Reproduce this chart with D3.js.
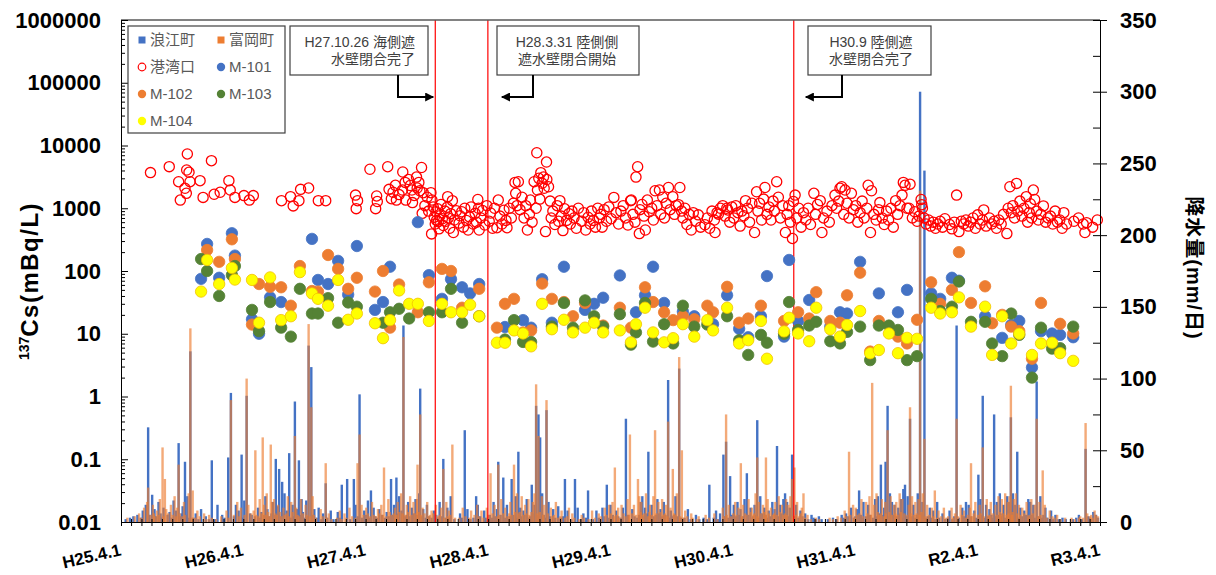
<!DOCTYPE html>
<html>
<head>
<meta charset="utf-8">
<script src="https://cdn.jsdelivr.net/npm/d3@7"></script>
<style>
  body { margin: 0; background: #fff; }
  svg text { font-family: "Liberation Sans", Arial, "Noto Sans CJK JP", sans-serif; }
</style>
</head>
<body>
<div id="chart"></div>
<script>

// ------------------------------------------------------------------------ //
// DATA
// ------------------------------------------------------------------------ //

// x axis labels (Japanese era dates, every 1 April)
var yearTickDates = ["2013-04-01","2014-04-01","2015-04-01","2016-04-01","2017-04-01","2018-04-01","2019-04-01","2020-04-01","2021-04-01"]
var yearTickLabels = ["H25.4.1","H26.4.1","H27.4.1","H28.4.1","H29.4.1","H30.4.1","H31.4.1","R2.4.1","R3.4.1"]

// left axis (log) and right axis tick values
var csTicks = [0.01, 0.1, 1, 10, 100, 1000, 10000, 100000, 1000000]
var rainTicks = [0, 50, 100, 150, 200, 250, 300, 350]
var rainMinorTicks = [25, 75, 125, 175, 225, 275, 325]

// events (red vertical lines)
var eventDates = ["2015-10-26", "2016-03-31", "2018-09-30"]
var eventLine1 = ["H27.10.26 海側遮", "H28.3.31 陸側側", "H30.9 陸側遮"]
var eventLine2 = ["水壁閉合完了", "遮水壁閉合開始", "水壁閉合完了"]

// daily rainfall, 浪江町 (mm/day)
var rainNamie = [
  ["2013-05-20",5],["2013-06-05",8],["2013-06-14",12],["2013-06-21",66],["2013-07-03",19],["2013-07-10",9],["2013-07-22",14],["2013-07-28",6],
  ["2013-08-06",10],["2013-08-24",7],["2013-09-05",15],["2013-09-12",8],["2013-09-20",55],["2013-10-02",11],["2013-10-09",42],["2013-10-16",18],
  ["2013-10-25",119],["2013-11-10",6],["2013-11-26",9],["2013-12-10",4],["2013-12-28",43],
  ["2014-01-14",12],["2014-01-28",5],["2014-02-15",45],["2014-02-23",90],["2014-03-10",12],["2014-03-18",8],["2014-03-27",47],["2014-04-04",15],
  ["2014-04-11",88],["2014-04-21",6],["2014-05-15",10],["2014-05-25",7],["2014-06-06",18],["2014-06-12",9],["2014-06-28",14],["2014-07-07",44],
  ["2014-07-12",11],["2014-07-17",37],["2014-07-26",28],["2014-08-02",20],["2014-08-09",8],["2014-08-16",48],["2014-08-26",12],["2014-09-02",84],
  ["2014-09-08",9],["2014-09-14",43],["2014-09-22",16],["2014-09-26",7],["2014-10-06",15],["2014-10-13",123],["2014-10-21",108],["2014-10-30",9],
  ["2014-11-12",10],["2014-11-25",6],["2014-12-03",27],["2014-12-18",8],
  ["2015-01-08",7],["2015-01-20",26],["2015-02-05",30],["2015-02-25",30],["2015-03-02",12],["2015-03-14",89],["2015-03-28",8],["2015-04-08",15],
  ["2015-04-17",22],["2015-04-25",10],["2015-05-12",9],["2015-06-03",7],["2015-06-16",30],["2015-06-25",12],["2015-07-02",31],["2015-07-10",18],
  ["2015-07-17",8],["2015-07-23",137],["2015-08-06",14],["2015-08-17",10],["2015-08-28",16],["2015-09-08",20],["2015-09-11",93],["2015-09-20",9],
  ["2015-10-01",12],["2015-10-22",8],["2015-11-08",14],["2015-11-19",44],["2015-12-01",10],["2015-12-11",18],
  ["2016-01-08",6],["2016-01-22",64],["2016-01-30",9],["2016-02-25",18],["2016-03-01",12],["2016-03-20",8],["2016-04-17",14],["2016-04-27",9],
  ["2016-05-01",42],["2016-05-16",31],["2016-05-27",12],["2016-06-10",30],["2016-06-22",18],["2016-06-30",49],["2016-07-06",10],["2016-07-15",8],
  ["2016-07-25",16],["2016-08-09",26],["2016-08-17",12],["2016-08-22",81],["2016-08-29",75],["2016-09-03",59],["2016-09-09",20],["2016-09-22",78],
  ["2016-09-28",14],["2016-10-12",9],["2016-10-27",11],["2016-11-16",30],["2016-11-24",8],["2016-12-16",30],["2016-12-24",10],
  ["2017-01-10",6],["2017-01-24",22],["2017-02-18",8],["2017-03-08",10],["2017-03-21",26],["2017-04-01",12],["2017-04-18",8],["2017-05-08",10],
  ["2017-05-17",72],["2017-06-05",9],["2017-06-30",14],["2017-07-05",18],["2017-07-13",10],["2017-07-23",49],["2017-08-02",12],["2017-08-19",16],
  ["2017-08-28",9],["2017-09-07",14],["2017-09-20",99],["2017-09-28",8],["2017-10-12",18],["2017-10-23",107],["2017-11-18",9],["2017-12-12",5],
  ["2018-01-21",26],["2018-02-10",8],["2018-02-22",6],["2018-03-04",47],["2018-03-12",56],["2018-03-24",32],["2018-04-04",12],["2018-04-15",14],
  ["2018-04-24",9],["2018-05-06",16],["2018-05-13",34],["2018-05-24",10],["2018-06-05",12],["2018-06-13",71],["2018-06-22",18],["2018-07-04",10],
  ["2018-07-17",8],["2018-07-28",14],["2018-08-04",9],["2018-08-11",53],["2018-08-20",12],["2018-08-30",16],["2018-09-04",20],["2018-09-10",14],
  ["2018-09-18",10],["2018-09-25",47],["2018-10-07",12],["2018-10-20",8],["2018-11-03",6],["2018-11-22",5],["2018-12-14",4],
  ["2019-01-25",3],["2019-02-20",5],["2019-03-05",6],["2019-03-20",10],["2019-04-06",9],["2019-04-13",22],["2019-04-26",14],["2019-05-10",12],
  ["2019-05-31",16],["2019-06-08",18],["2019-06-17",40],["2019-06-27",10],["2019-07-01",42],["2019-07-07",81],["2019-07-14",20],["2019-07-20",14],
  ["2019-07-28",12],["2019-08-08",10],["2019-08-16",16],["2019-08-23",23],["2019-08-28",26],["2019-09-05",18],["2019-09-12",72],["2019-09-22",12],
  ["2019-10-05",20],["2019-10-12",300],["2019-10-19",14],["2019-10-25",245],["2019-11-10",10],["2019-11-20",8],["2019-12-02",14],["2019-12-18",6],
  ["2020-01-08",8],["2020-01-29",137],["2020-02-15",10],["2020-02-26",14],["2020-03-05",12],["2020-03-22",8],["2020-04-03",33],["2020-04-09",16],
  ["2020-04-16",88],["2020-04-26",12],["2020-05-06",9],["2020-05-20",75],["2020-05-28",14],["2020-06-06",20],["2020-06-17",12],["2020-06-28",18],
  ["2020-07-03",14],["2020-07-09",73],["2020-07-15",20],["2020-07-21",12],["2020-07-28",49],["2020-08-06",10],["2020-08-18",8],["2020-08-30",16],
  ["2020-09-05",14],["2020-09-14",12],["2020-09-24",98],["2020-10-05",18],["2020-10-20",10],["2020-11-06",8],["2020-11-19",5],["2020-12-10",3],
  ["2021-01-20",3],["2021-01-28",5],["2021-02-17",51],["2021-02-25",4],["2021-03-12",7],["2021-03-20",5],
  // light rain days
  ["2013-04-15",2],["2013-04-28",3],["2013-05-08",4],["2013-05-30",3],["2013-06-25",5],["2013-07-15",4],["2013-07-31",3],["2013-08-18",5],
  ["2013-08-30",3],["2013-09-25",4],["2013-09-29",6],["2013-10-12",5],["2013-10-21",3],["2013-11-03",3],["2013-11-18",2],["2013-12-20",2],
  ["2014-01-06",2],["2014-02-04",3],["2014-03-04",4],["2014-03-30",3],["2014-04-26",5],["2014-05-06",4],["2014-05-20",3],["2014-06-02",5],
  ["2014-06-17",4],["2014-06-24",6],["2014-07-04",5],["2014-07-21",4],["2014-07-30",6],["2014-08-12",5],["2014-08-21",3],["2014-08-30",4],
  ["2014-09-18",5],["2014-09-30",3],["2014-10-09",4],["2014-10-26",5],["2014-11-06",3],["2014-11-20",2],["2014-12-08",3],["2014-12-26",2],
  ["2015-01-15",3],["2015-02-14",2],["2015-03-09",4],["2015-03-21",3],["2015-04-02",5],["2015-04-13",3],["2015-04-30",4],["2015-05-06",3],
  ["2015-05-20",5],["2015-05-28",3],["2015-06-09",4],["2015-06-20",5],["2015-07-06",6],["2015-07-27",4],["2015-08-02",5],["2015-08-10",4],
  ["2015-08-23",6],["2015-09-02",5],["2015-09-15",4],["2015-09-27",3],["2015-10-08",4],["2015-10-15",3],["2015-10-29",5],["2015-11-02",3],
  ["2015-11-14",4],["2015-11-26",3],["2015-12-06",3],["2015-12-22",2],
  ["2016-01-14",3],["2016-02-08",2],["2016-02-17",3],["2016-03-08",4],["2016-03-26",3],["2016-04-06",5],["2016-04-12",3],["2016-04-22",4],
  ["2016-05-08",5],["2016-05-21",3],["2016-06-04",4],["2016-06-16",5],["2016-06-26",3],["2016-07-02",6],["2016-07-10",4],["2016-07-20",5],
  ["2016-07-30",3],["2016-08-04",4],["2016-08-13",6],["2016-08-26",5],["2016-09-06",4],["2016-09-14",5],["2016-09-18",3],["2016-10-03",4],
  ["2016-10-18",3],["2016-11-04",3],["2016-11-10",4],["2016-12-05",2],
  ["2017-01-03",2],["2017-01-18",3],["2017-02-08",2],["2017-02-25",3],["2017-03-14",4],["2017-03-28",3],["2017-04-08",5],["2017-04-24",4],
  ["2017-05-02",3],["2017-05-24",5],["2017-06-12",4],["2017-06-20",3],["2017-06-25",5],["2017-07-08",4],["2017-07-18",6],["2017-07-30",5],
  ["2017-08-08",4],["2017-08-14",5],["2017-08-24",6],["2017-09-02",4],["2017-09-12",5],["2017-09-24",3],["2017-10-02",4],["2017-10-07",5],
  ["2017-10-17",4],["2017-10-28",3],["2017-11-08",3],["2017-11-26",2],["2017-12-22",2],
  ["2018-01-04",3],["2018-01-14",2],["2018-02-03",3],["2018-02-16",2],["2018-03-08",4],["2018-03-18",3],["2018-03-30",5],["2018-04-10",4],
  ["2018-04-20",5],["2018-04-29",3],["2018-05-02",4],["2018-05-18",5],["2018-05-30",3],["2018-06-01",4],["2018-06-10",5],["2018-06-18",3],
  ["2018-06-27",6],["2018-07-08",5],["2018-07-12",3],["2018-07-22",4],["2018-08-08",5],["2018-08-15",4],["2018-08-24",6],["2018-09-01",5],
  ["2018-09-07",3],["2018-09-14",4],["2018-09-21",5],["2018-10-03",4],["2018-10-14",3],["2018-10-26",4],["2018-11-12",2],["2018-11-28",3],
  ["2018-12-05",2],["2018-12-22",2],
  ["2019-01-10",2],["2019-02-05",2],["2019-02-26",3],["2019-03-12",4],["2019-03-28",3],["2019-04-02",4],["2019-04-18",5],["2019-04-22",3],
  ["2019-05-04",4],["2019-05-16",5],["2019-05-24",3],["2019-06-02",4],["2019-06-13",6],["2019-06-22",5],["2019-07-04",6],["2019-07-10",4],
  ["2019-07-24",5],["2019-08-02",4],["2019-08-12",6],["2019-08-20",3],["2019-09-01",4],["2019-09-08",5],["2019-09-16",4],["2019-09-27",3],
  ["2019-10-02",5],["2019-10-08",4],["2019-10-15",6],["2019-10-22",5],["2019-10-29",3],["2019-11-04",4],["2019-11-15",3],["2019-11-26",2],
  ["2019-12-08",3],["2019-12-26",2],
  ["2020-01-03",3],["2020-01-16",2],["2020-01-22",4],["2020-02-05",3],["2020-02-20",4],["2020-03-01",3],["2020-03-12",4],["2020-03-27",3],
  ["2020-04-05",4],["2020-04-12",5],["2020-04-21",3],["2020-04-30",4],["2020-05-02",3],["2020-05-12",5],["2020-05-16",3],["2020-05-24",4],
  ["2020-06-02",5],["2020-06-10",4],["2020-06-14",6],["2020-06-22",3],["2020-07-06",5],["2020-07-12",4],["2020-07-18",6],["2020-07-25",4],
  ["2020-08-02",3],["2020-08-12",4],["2020-08-24",5],["2020-09-01",4],["2020-09-10",5],["2020-09-18",3],["2020-09-28",4],["2020-10-09",3],
  ["2020-10-14",5],["2020-10-26",3],["2020-11-12",2],["2020-11-28",2],["2020-12-20",2],
  ["2021-01-10",2],["2021-02-06",2],["2021-02-28",3],["2021-03-05",2],["2021-03-26",3]
]

// daily rainfall, 富岡町 (mm/day)
var rainTomioka = [
  ["2013-05-25",6],["2013-06-09",10],["2013-06-18",14],["2013-06-21",24],["2013-07-05",12],["2013-07-18",8],["2013-07-26",16],["2013-08-03",52],
  ["2013-08-10",30],["2013-08-14",9],["2013-08-28",12],["2013-09-08",18],["2013-09-16",10],["2013-09-20",40],["2013-10-06",14],["2013-10-20",20],
  ["2013-10-25",135],["2013-11-01",22],["2013-11-15",8],["2013-12-05",6],["2013-12-20",5],
  ["2014-01-25",4],["2014-02-10",8],["2014-02-23",85],["2014-03-14",14],["2014-03-25",10],["2014-04-11",100],["2014-04-16",12],["2014-05-02",8],
  ["2014-05-07",50],["2014-05-20",16],["2014-05-29",59],["2014-06-02",12],["2014-06-10",20],["2014-06-22",54],["2014-06-26",14],["2014-07-02",16],
  ["2014-07-14",12],["2014-07-30",10],["2014-08-12",18],["2014-08-22",14],["2014-09-02",60],["2014-09-06",10],["2014-09-20",16],["2014-10-04",12],
  ["2014-10-13",138],["2014-10-21",80],["2014-10-25",18],["2014-11-18",9],["2014-12-03",41],["2014-12-12",6],
  ["2015-01-14",8],["2015-01-28",6],["2015-02-12",10],["2015-03-08",41],["2015-03-14",61],["2015-03-20",12],["2015-04-03",10],["2015-04-20",14],
  ["2015-05-08",9],["2015-05-18",12],["2015-05-26",38],["2015-06-08",16],["2015-06-28",10],["2015-07-06",14],["2015-07-16",20],["2015-07-23",129],
  ["2015-08-02",12],["2015-08-12",18],["2015-08-22",14],["2015-09-01",16],["2015-09-03",40],["2015-09-11",75],["2015-09-18",10],["2015-10-02",14],
  ["2015-10-15",8],["2015-10-28",12],["2015-11-12",10],["2015-11-19",37],["2015-11-28",14],["2015-12-06",8],["2015-12-16",54],
  ["2016-01-16",10],["2016-02-10",8],["2016-02-28",12],["2016-03-12",8],["2016-03-28",10],["2016-04-08",34],["2016-04-20",12],["2016-05-01",40],
  ["2016-05-10",16],["2016-05-22",10],["2016-06-06",14],["2016-06-17",40],["2016-06-26",20],["2016-07-10",18],["2016-07-20",12],["2016-07-30",16],
  ["2016-08-12",14],["2016-08-17",20],["2016-08-22",96],["2016-08-29",60],["2016-09-08",18],["2016-09-15",12],["2016-09-22",85],["2016-10-05",10],
  ["2016-10-20",14],["2016-11-06",8],["2016-11-28",10],["2016-12-08",6],
  ["2017-01-05",5],["2017-02-05",8],["2017-02-25",6],["2017-03-15",10],["2017-03-28",12],["2017-04-07",14],["2017-04-14",38],["2017-04-24",10],
  ["2017-05-04",12],["2017-05-22",16],["2017-05-29",61],["2017-06-10",12],["2017-06-22",30],["2017-06-26",18],["2017-07-02",14],["2017-07-16",20],
  ["2017-07-28",12],["2017-08-07",18],["2017-08-12",64],["2017-08-22",14],["2017-09-02",16],["2017-09-14",12],["2017-09-20",70],["2017-09-27",10],
  ["2017-10-04",37],["2017-10-16",20],["2017-10-23",115],["2017-10-31",50],["2017-11-10",8],["2017-11-28",6],["2017-12-20",4],
  ["2018-01-10",5],["2018-02-05",6],["2018-03-02",10],["2018-03-12",75],["2018-03-20",12],["2018-04-08",14],["2018-04-18",10],["2018-04-25",41],
  ["2018-05-02",12],["2018-05-18",16],["2018-05-28",10],["2018-06-08",20],["2018-06-13",45],["2018-06-18",14],["2018-06-30",12],["2018-07-09",45],
  ["2018-07-14",16],["2018-07-24",10],["2018-08-06",14],["2018-08-16",18],["2018-08-26",12],["2018-09-07",16],["2018-09-14",12],["2018-09-20",18],
  ["2018-09-25",30],["2018-10-02",38],["2018-10-10",14],["2018-10-24",10],["2018-10-29",20],["2018-11-10",5],["2018-12-05",3],
  ["2019-01-15",3],["2019-02-08",4],["2019-03-01",8],["2019-03-14",49],["2019-03-26",12],["2019-04-03",10],["2019-04-20",16],["2019-05-04",14],
  ["2019-05-14",18],["2019-05-22",97],["2019-05-28",12],["2019-06-04",20],["2019-06-20",16],["2019-06-30",14],["2019-07-07",64],["2019-07-16",18],
  ["2019-07-26",12],["2019-08-02",14],["2019-08-12",20],["2019-08-20",16],["2019-09-08",12],["2019-09-12",80],["2019-09-18",18],["2019-09-28",14],
  ["2019-10-07",16],["2019-10-12",231],["2019-10-20",20],["2019-10-25",58],["2019-11-02",12],["2019-11-16",10],["2019-11-25",22],["2019-12-06",8],
  ["2019-12-22",10],
  ["2020-01-14",10],["2020-01-24",6],["2020-01-29",72],["2020-02-10",12],["2020-02-20",8],["2020-03-08",10],["2020-03-12",41],["2020-03-25",14],
  ["2020-04-07",12],["2020-04-16",52],["2020-04-28",16],["2020-05-10",14],["2020-05-24",12],["2020-06-02",18],["2020-06-12",16],["2020-06-22",20],
  ["2020-06-30",14],["2020-07-05",18],["2020-07-09",95],["2020-07-18",16],["2020-07-24",20],["2020-08-02",12],["2020-08-12",10],["2020-08-25",14],
  ["2020-09-08",16],["2020-09-18",12],["2020-09-24",72],["2020-10-02",14],["2020-10-12",36],["2020-10-18",12],["2020-11-02",8],["2020-11-24",5],
  ["2021-01-06",3],["2021-02-01",4],["2021-02-17",69],["2021-02-22",6],["2021-03-06",5],["2021-03-16",8],["2021-03-26",4],
  // light rain days
  ["2013-04-20",3],["2013-05-12",4],["2013-06-01",3],["2013-06-28",5],["2013-07-08",6],["2013-07-12",4],["2013-07-22",5],["2013-08-06",4],
  ["2013-08-20",6],["2013-09-02",5],["2013-09-12",4],["2013-09-24",6],["2013-10-01",4],["2013-10-10",5],["2013-10-29",3],["2013-11-08",3],
  ["2013-11-22",4],["2013-12-12",2],["2013-12-28",3],
  ["2014-01-10",2],["2014-02-16",3],["2014-03-04",5],["2014-03-20",4],["2014-04-05",5],["2014-04-24",6],["2014-05-10",5],["2014-05-16",4],
  ["2014-05-26",6],["2014-06-06",5],["2014-06-14",7],["2014-06-18",4],["2014-07-06",6],["2014-07-10",5],["2014-07-20",7],["2014-07-24",4],
  ["2014-08-03",5],["2014-08-08",6],["2014-08-16",4],["2014-08-26",7],["2014-09-10",5],["2014-09-14",4],["2014-09-26",6],["2014-10-08",5],
  ["2014-10-17",4],["2014-10-29",5],["2014-11-04",3],["2014-11-24",4],["2014-12-06",3],["2014-12-20",2],
  ["2015-01-06",3],["2015-01-20",2],["2015-02-03",3],["2015-02-20",4],["2015-03-02",3],["2015-03-26",5],["2015-04-08",6],["2015-04-14",4],
  ["2015-04-26",5],["2015-05-02",4],["2015-05-12",6],["2015-05-22",5],["2015-06-02",4],["2015-06-12",7],["2015-06-18",5],["2015-06-24",6],
  ["2015-07-02",5],["2015-07-10",7],["2015-07-20",6],["2015-07-28",5],["2015-08-06",7],["2015-08-16",5],["2015-08-26",6],["2015-09-06",7],
  ["2015-09-14",5],["2015-09-24",6],["2015-10-06",4],["2015-10-10",5],["2015-10-20",6],["2015-11-04",4],["2015-11-08",5],["2015-11-22",3],
  ["2015-12-02",4],["2015-12-10",5],["2015-12-24",3],
  ["2016-01-06",3],["2016-01-24",4],["2016-02-04",3],["2016-02-20",5],["2016-03-04",4],["2016-03-18",3],["2016-04-02",5],["2016-04-14",6],
  ["2016-04-26",4],["2016-05-04",5],["2016-05-16",6],["2016-05-28",4],["2016-06-02",6],["2016-06-10",5],["2016-06-20",7],["2016-06-30",6],
  ["2016-07-04",7],["2016-07-14",5],["2016-07-24",6],["2016-08-02",5],["2016-08-08",7],["2016-08-26",6],["2016-09-02",7],["2016-09-12",5],
  ["2016-09-26",6],["2016-10-10",4],["2016-10-14",5],["2016-10-26",3],["2016-11-02",4],["2016-11-16",3],["2016-11-22",4],["2016-12-14",3],
  ["2016-12-28",2],
  ["2017-01-12",3],["2017-01-26",2],["2017-02-14",3],["2017-03-04",4],["2017-03-20",5],["2017-04-02",6],["2017-04-12",4],["2017-04-20",5],
  ["2017-04-28",3],["2017-05-10",6],["2017-05-16",4],["2017-05-26",5],["2017-06-04",6],["2017-06-16",5],["2017-06-30",7],["2017-07-06",5],
  ["2017-07-10",6],["2017-07-22",4],["2017-07-26",7],["2017-08-02",5],["2017-08-16",6],["2017-08-28",7],["2017-09-06",5],["2017-09-10",6],
  ["2017-09-18",4],["2017-10-08",6],["2017-10-12",5],["2017-10-26",4],["2017-11-04",3],["2017-11-16",4],["2017-12-02",3],["2017-12-14",2],
  ["2018-01-20",3],["2018-02-14",2],["2018-03-06",4],["2018-03-14",5],["2018-03-26",4],["2018-04-02",6],["2018-04-12",5],["2018-04-28",4],
  ["2018-05-08",6],["2018-05-12",5],["2018-05-24",7],["2018-06-02",5],["2018-06-04",6],["2018-06-14",4],["2018-06-24",6],["2018-07-04",7],
  ["2018-07-08",5],["2018-07-18",6],["2018-07-30",5],["2018-08-02",6],["2018-08-10",5],["2018-08-20",7],["2018-08-30",5],["2018-09-03",6],
  ["2018-09-10",5],["2018-09-28",4],["2018-10-06",5],["2018-10-16",4],["2018-10-20",6],["2018-11-02",3],["2018-11-20",2],["2018-12-15",2],
  ["2019-01-25",2],["2019-02-18",3],["2019-03-06",4],["2019-03-18",5],["2019-03-30",3],["2019-04-08",5],["2019-04-14",6],["2019-04-26",4],
  ["2019-05-08",6],["2019-05-18",5],["2019-06-08",7],["2019-06-12",5],["2019-06-16",6],["2019-06-26",4],["2019-07-02",6],["2019-07-12",7],
  ["2019-07-20",5],["2019-07-30",6],["2019-08-06",5],["2019-08-16",7],["2019-08-26",6],["2019-09-02",5],["2019-09-14",6],["2019-09-24",5],
  ["2019-10-02",6],["2019-10-10",5],["2019-10-16",7],["2019-10-28",4],["2019-11-08",5],["2019-11-20",4],["2019-12-02",3],["2019-12-14",4],
  ["2019-12-28",3],
  ["2020-01-04",4],["2020-01-18",3],["2020-02-02",4],["2020-02-14",5],["2020-02-26",3],["2020-03-02",5],["2020-03-16",4],["2020-03-20",6],
  ["2020-04-02",5],["2020-04-10",6],["2020-04-20",4],["2020-05-04",5],["2020-05-06",4],["2020-05-16",6],["2020-05-28",5],["2020-06-06",7],
  ["2020-06-08",5],["2020-06-16",6],["2020-06-26",5],["2020-07-02",6],["2020-07-12",5],["2020-07-14",7],["2020-07-28",6],["2020-08-06",5],
  ["2020-08-18",6],["2020-08-30",4],["2020-09-02",5],["2020-09-12",6],["2020-09-28",4],["2020-10-06",5],["2020-10-24",3],["2020-11-10",4],
  ["2020-11-16",3],["2020-12-04",2],["2020-12-18",3],
  ["2021-01-16",2],["2021-01-28",3],["2021-02-10",3],["2021-03-02",4],["2021-03-10",3],["2021-03-20",5]
]

// 137Cs at the port entrance, 港湾口 (mBq/L)
var harbor = [
  ["2013-06-28",3700],["2013-08-23",4600],["2013-09-20",2650],["2013-09-25",1350],["2013-10-09",2080],["2013-10-13",1730],["2013-10-14",4070],
  ["2013-10-16",7330],["2013-10-21",3740],["2013-10-24",2650],["2013-11-23",2750],["2013-12-02",1490],["2013-12-27",5730],["2014-01-04",1670],
  ["2014-01-22",1795],["2014-02-17",2750],["2014-02-21",1950],["2014-03-07",1490],["2014-04-03",1590],["2014-04-19",1350],["2014-05-01",1590],
  ["2014-07-24",1320],["2014-08-20",1530],["2014-08-28",1090],["2014-09-14",1320],["2014-09-19",2000],["2014-10-13",2100],["2014-11-11",1320],
  ["2014-12-03",1320],["2015-03-02",1620],["2015-03-04",985],["2015-03-08",1320],["2015-04-14",4180],["2015-05-01",985],["2015-05-04",1570],
  ["2015-05-06",1280],["2015-06-06",4590],["2015-06-10",2000],["2015-06-17",1420],["2015-06-22",1800],["2015-06-29",2320],["2015-07-02",1350],
  ["2015-07-10",1650],["2015-07-20",1950],["2015-07-21",3780],["2015-07-28",2580],["2015-07-30",1350],["2015-08-07",2870],["2015-08-12",2300],
  ["2015-08-17",1950],["2015-08-19",1230],["2015-08-24",1600],["2015-08-31",3140],["2015-09-02",2100],["2015-09-07",2580],["2015-09-10",1900],
  ["2015-09-15",4460],["2015-09-17",830],["2015-09-20",1770],["2015-09-25",1100],["2015-10-02",1500],["2015-10-06",900],["2015-10-13",1770],
  ["2015-10-15",390],["2015-10-16",1350],["2015-10-20",1050],["2015-10-23",720],["2015-10-26",560],["2015-10-28",880],["2015-10-30",640],
  ["2015-11-02",980],["2015-11-04",610],["2015-11-06",470],["2015-11-09",760],["2015-11-12",1150],["2015-11-16",680],["2015-11-19",530],
  ["2015-11-24",900],["2015-11-27",620],["2015-12-01",1040],["2015-12-02",1530],["2015-12-04",700],["2015-12-08",480],["2015-12-11",820],
  ["2015-12-16",1320],["2015-12-19",410],["2015-12-22",650],["2015-12-28",910],
  ["2016-01-05",580],["2016-01-08",760],["2016-01-13",880],["2016-01-18",500],["2016-01-22",1000],["2016-01-27",640],["2016-02-01",450],
  ["2016-02-05",730],["2016-02-10",1050],["2016-02-16",560],["2016-02-22",830],["2016-02-26",600],["2016-03-01",1380],["2016-03-03",1000],
  ["2016-03-05",450],["2016-03-10",700],["2016-03-15",920],["2016-03-22",540],["2016-03-28",1100],["2016-04-04",620],["2016-04-08",840],
  ["2016-04-14",480],["2016-04-20",1000],["2016-04-27",490],["2016-05-01",1350],["2016-05-06",750],["2016-05-12",560],["2016-05-18",930],
  ["2016-05-24",640],["2016-05-27",490],["2016-06-03",1000],["2016-06-09",700],["2016-06-15",1200],["2016-06-20",2580],["2016-06-22",1730],
  ["2016-06-26",1100],["2016-06-30",2650],["2016-07-05",950],["2016-07-11",1500],["2016-07-17",700],["2016-07-22",1100],["2016-07-27",450],
  ["2016-08-02",800],["2016-08-05",1350],["2016-08-10",600],["2016-08-16",2650],["2016-08-22",1000],["2016-08-24",7670],["2016-08-26",1950],
  ["2016-08-30",3000],["2016-09-02",1400],["2016-09-05",3690],["2016-09-09",2500],["2016-09-13",3140],["2016-09-15",2080],["2016-09-19",425],
  ["2016-09-22",5450],["2016-09-23",2870],["2016-09-28",2200],["2016-10-03",1300],["2016-10-06",700],["2016-10-11",900],["2016-10-17",550],
  ["2016-10-24",1100],["2016-10-28",620],["2016-11-01",1320],["2016-11-05",750],["2016-11-10",440],["2016-11-15",980],["2016-11-21",640],
  ["2016-11-28",820],["2016-12-02",560],["2016-12-07",900],["2016-12-13",700],["2016-12-20",480],["2016-12-26",1000],
  ["2017-01-05",620],["2017-01-11",850],["2017-01-17",450],["2017-01-24",720],["2017-01-30",560],["2017-02-03",900],["2017-02-09",640],
  ["2017-02-15",500],["2017-02-22",1000],["2017-02-27",700],["2017-03-03",800],["2017-03-07",500],["2017-03-13",950],["2017-03-20",620],
  ["2017-03-27",1050],["2017-04-03",680],["2017-04-11",1490],["2017-04-18",850],["2017-04-25",560],["2017-05-02",900],["2017-05-09",1100],
  ["2017-05-16",700],["2017-05-23",540],["2017-05-31",1320],["2017-06-02",1350],["2017-06-07",800],["2017-06-13",600],["2017-06-16",3140],
  ["2017-06-21",4590],["2017-06-26",395],["2017-06-28",950],["2017-07-04",1150],["2017-07-10",750],["2017-07-14",450],["2017-07-20",1350],
  ["2017-07-26",880],["2017-08-02",1000],["2017-08-07",650],["2017-08-12",1900],["2017-08-18",1100],["2017-08-25",1950],["2017-08-29",800],
  ["2017-09-04",1500],["2017-09-09",700],["2017-09-14",1200],["2017-09-21",2140],["2017-09-26",950],["2017-10-04",1530],["2017-10-09",800],
  ["2017-10-14",1100],["2017-10-21",1140],["2017-10-25",2140],["2017-10-30",900],["2017-11-03",700],["2017-11-09",1000],["2017-11-15",550],
  ["2017-11-22",800],["2017-11-28",450],["2017-12-04",850],["2017-12-11",620],["2017-12-19",785],["2017-12-26",500],
  ["2018-01-08",545],["2018-01-15",700],["2018-01-22",480],["2018-01-29",900],["2018-02-05",650],["2018-02-07",410],["2018-02-13",850],
  ["2018-02-17",805],["2018-02-23",1000],["2018-03-02",1100],["2018-03-09",750],["2018-03-14",1000],["2018-03-17",940],["2018-03-23",600],
  ["2018-03-29",1050],["2018-04-04",700],["2018-04-10",1100],["2018-04-16",850],["2018-04-23",520],["2018-04-28",900],["2018-05-04",760],
  ["2018-05-09",1320],["2018-05-15",1000],["2018-05-21",600],["2018-05-28",1200],["2018-06-05",410],["2018-06-11",1830],["2018-06-15",900],
  ["2018-06-20",1200],["2018-06-26",650],["2018-07-02",1400],["2018-07-06",2140],["2018-07-12",800],["2018-07-18",1050],["2018-07-24",650],
  ["2018-07-30",1300],["2018-08-03",900],["2018-08-10",2650],["2018-08-15",1500],["2018-08-21",700],["2018-08-28",1100],["2018-09-05",410],
  ["2018-09-10",800],["2018-09-15",1100],["2018-09-20",600],["2018-09-26",330],["2018-09-29",1280],["2018-10-04",1620],["2018-10-09",700],
  ["2018-10-15",1000],["2018-10-22",500],["2018-10-29",850],["2018-11-05",650],["2018-11-12",1000],["2018-11-19",550],["2018-11-29",1730],
  ["2018-12-04",800],["2018-12-10",1150],["2018-12-18",1320],["2018-12-23",410],["2018-12-28",700],
  ["2019-01-07",900],["2019-01-14",600],["2019-01-22",1100],["2019-01-31",1620],["2019-02-05",1000],["2019-02-11",1300],["2019-02-15",2080],
  ["2019-02-20",2200],["2019-02-26",800],["2019-03-02",1950],["2019-03-08",1200],["2019-03-14",700],["2019-03-21",1730],["2019-03-27",950],
  ["2019-04-03",1100],["2019-04-09",600],["2019-04-16",850],["2019-04-22",1300],["2019-04-28",700],["2019-05-06",1000],["2019-05-10",2320],
  ["2019-05-17",410],["2019-05-20",1900],["2019-05-27",800],["2019-06-03",650],["2019-06-10",950],["2019-06-14",1230],["2019-06-21",700],
  ["2019-06-27",550],["2019-07-04",900],["2019-07-10",650],["2019-07-17",1000],["2019-07-24",500],["2019-07-31",1320],["2019-08-06",800],
  ["2019-08-13",1100],["2019-08-19",1620],["2019-08-23",2580],["2019-08-28",2320],["2019-09-03",1000],["2019-09-09",1000],["2019-09-12",2420],
  ["2019-09-19",700],["2019-09-26",880],["2019-10-03",620],["2019-10-09",750],["2019-10-15",1380],["2019-10-17",1140],["2019-10-19",1000],
  ["2019-10-24",700],["2019-10-30",560],["2019-11-06",650],["2019-11-13",520],["2019-11-20",600],["2019-11-27",480],["2019-12-04",560],
  ["2019-12-11",620],["2019-12-18",500],["2019-12-25",680],
  ["2020-01-08",550],["2020-01-15",470],["2020-01-22",600],["2020-01-29",1620],["2020-02-05",425],["2020-02-12",620],["2020-02-19",560],
  ["2020-02-26",650],["2020-03-04",520],["2020-03-11",600],["2020-03-18",700],["2020-03-25",480],["2020-04-01",785],["2020-04-08",560],
  ["2020-04-15",650],["2020-04-19",940],["2020-04-26",520],["2020-05-06",700],["2020-05-13",560],["2020-05-20",620],["2020-05-27",480],
  ["2020-06-03",650],["2020-06-10",560],["2020-06-17",800],["2020-06-27",395],["2020-07-01",1000],["2020-07-06",2200],["2020-07-10",850],
  ["2020-07-15",1100],["2020-07-20",700],["2020-07-26",2490],["2020-07-30",900],["2020-08-05",1300],["2020-08-11",750],["2020-08-17",1000],
  ["2020-08-24",1530],["2020-08-28",600],["2020-09-02",850],["2020-09-05",1180],["2020-09-09",700],["2020-09-14",1950],["2020-09-18",1380],
  ["2020-09-24",900],["2020-09-29",650],["2020-10-06",800],["2020-10-14",1090],["2020-10-21",600],["2020-10-28",700],["2020-11-04",750],
  ["2020-11-11",560],["2020-11-18",900],["2020-11-25",600],["2020-12-02",650],["2020-12-09",480],["2020-12-14",850],["2020-12-22",560],
  ["2021-01-13",620],["2021-01-27",700],["2021-02-10",560],["2021-02-15",410],["2021-02-20",590],["2021-03-10",500],["2021-03-24",650]
]

// sampling dates of the wells M-101 ... M-104
var mDates = [
  "2013-11-26","2013-12-14","2014-01-19","2014-02-26","2014-03-07","2014-04-27","2014-05-18","2014-06-20","2014-07-23","2014-08-21",
  "2014-09-17","2014-10-23","2014-11-10","2014-12-10","2015-01-09","2015-02-08","2015-03-06","2015-04-29","2015-05-23","2015-06-13",
  "2015-07-10","2015-08-09","2015-09-04","2015-10-07","2015-11-15","2015-12-12","2016-01-14","2016-02-07","2016-03-05","2016-04-27",
  "2016-05-21","2016-06-17","2016-07-14","2016-08-07","2016-09-09","2016-10-08","2016-11-13","2016-12-10","2017-01-15","2017-02-11",
  "2017-03-10","2017-04-29","2017-06-01","2017-06-16","2017-07-13","2017-08-06","2017-09-08","2017-10-05","2017-11-03","2017-12-07",
  "2018-01-15","2018-02-01","2018-03-15","2018-04-20","2018-05-17","2018-06-24","2018-07-12","2018-09-01","2018-09-16","2018-10-13",
  "2018-11-15","2018-12-06","2019-01-17","2019-02-15","2019-03-08","2019-04-16","2019-05-16","2019-06-11","2019-07-11","2019-08-07",
  "2019-09-03","2019-10-03","2019-11-14","2019-12-11","2020-01-15","2020-02-05","2020-03-12","2020-04-23","2020-05-14","2020-06-13",
  "2020-07-10","2020-08-03","2020-09-10","2020-10-07","2020-11-09","2020-12-03","2021-01-11"
]
var m101 = [
  75,270,78,400,176,17,10,38,32,null, null,325,72,62,145,42,250,24,32,117, null,null,600,86,36,74,55,44,62,null,
  12.8,null,16.5,12.5,74,15,117,null,24,30, 37.5,85,null,22,41,117,31,null,22.5,19, null,14.2,41,12,8.8,19,83,9,150,16,
  34.5,null,13,22,21,140,null,44,null,22, 50,null,44,36,78,70,null,19,null,8.6, 13.8,16,2.9,11,10.1,9.6,8.8
]
var m102 = [
  null,216,140,320,155,14,62,56,55,28, 120,48,47,180,108,52,78,47,100,12.5, 61,null,22,66,108,100,26,null,52,12.5,
  30,36,10.5,11.3,63,36,32,19,31,null, 13.5,26,12.5,null,55,32,22,16.5,19,17, 28,22,56,15,17.5,28,null,16,null,22,
  17.5,46,16,15,41,94,5.2,16,null,9, 7,16.7,66,30,50,200,31,57,14.7,20, 13,11,4,31,null,14.4,10.1
]
var m103 = [
  155,100,40,86,120,24,11,32,12.5,9, 52,21,21,37,15,31.5,27,null,15,22, 25,17.5,null,22,22,52,15,null,19,null,
  8.1,16.5,7.4,7.4,null,13,31,12.5,34,19, 13,20.5,6.7,10.5,31,7.5,14.2,7,28,13, 14,null,19,7.9,4.6,9.6,7.2,10,32,11.5,
  13.5,15.5,7.6,7,10.7,13,3.8,13.5,13.5,11.5, 3.8,4.4,36,23,27,68,15.5,15.5,7,4.4, 21,9.6,2,12.5,5.8,5.9,13
]
var m104 = [
  47,150,62,112,73,72,15,79,16.5,19, 96,44,36,28,72,16.7,21,14.7,8.5,16.5, 49,30,30,16,30,22,22,29,19,7.2,
  7.2,11.3,10.1,6.3,30,11.8,16.7,10.5,12.5,15, 10.5,11.3,7.3,14.2,26,10.5,7.3,8.5,14.2,9, 16.5,11.3,26,7,7.9,16,4,10.9,18,10.1,
  7.6,26,11.8,9,13.8,23,4.9,5.5,10.1,4.9, 8.6,8.3,26,21,22,38,13,27,4.6,19, 7,10,4.6,7,7.2,4.9,3.7
]


// ------------------------------------------------------------------------ //
// SVG AREA
// ------------------------------------------------------------------------ //

var margin = {top: 20, right: 116, bottom: 53, left: 121},
  width = 1216 - margin.left - margin.right,
  height = 575 - margin.top - margin.bottom;

var svgRoot = d3.select("#chart")
  .append("svg")
    .attr("width", 1216)
    .attr("height", 575)

var svg = svgRoot.append("g")
    .attr("transform", "translate(" + margin.left + "," + margin.top + ")");

var parseDate = d3.timeParse("%Y-%m-%d")


// ------------------------------------------------------------------------ //
// SCALES
// ------------------------------------------------------------------------ //

var x = d3.scaleTime()
  .domain([parseDate(yearTickDates[0]), parseDate(yearTickDates[yearTickDates.length - 1])])
  .range([0, width])

var y = d3.scaleLog()
  .domain([0.01, 1000000])
  .range([height, 0])

var yRain = d3.scaleLinear()
  .domain([0, 350])
  .range([height, 0])


// ------------------------------------------------------------------------ //
// RAINFALL BARS
// ------------------------------------------------------------------------ //

var barW = 2.4

svg.append("g")
  .selectAll("rect")
  .data(rainNamie)
  .enter()
  .append("rect")
    .attr("x", function(d) { return x(parseDate(d[0])) - barW / 2 })
    .attr("y", function(d) { return yRain(d[1]) })
    .attr("width", barW)
    .attr("height", function(d) { return height - yRain(d[1]) })
    .style("fill", "#4472C4")

svg.append("g")
  .selectAll("rect")
  .data(rainTomioka)
  .enter()
  .append("rect")
    .attr("x", function(d) { return x(parseDate(d[0])) - barW / 2 })
    .attr("y", function(d) { return yRain(d[1]) })
    .attr("width", barW)
    .attr("height", function(d) { return height - yRain(d[1]) })
    .style("fill", "#ED7D31")
    .style("opacity", 0.65)


// ------------------------------------------------------------------------ //
// EVENT LINES
// ------------------------------------------------------------------------ //

svg.append("g")
  .selectAll("line")
  .data(eventDates)
  .enter()
  .append("line")
    .attr("x1", function(d) { return x(parseDate(d)) })
    .attr("x2", function(d) { return x(parseDate(d)) })
    .attr("y1", 0)
    .attr("y2", height)
    .style("stroke", "#FF0000")
    .style("stroke-width", 1.2)


// ------------------------------------------------------------------------ //
// POINTS
// ------------------------------------------------------------------------ //

svg.append("g")
  .selectAll("circle")
  .data(harbor)
  .enter()
  .append("circle")
    .attr("cx", function(d) { return x(parseDate(d[0])) })
    .attr("cy", function(d) { return y(d[1]) })
    .attr("r", 5.1)
    .style("fill", "none")
    .style("stroke", "#FF0000")
    .style("stroke-width", 1.3)

var wells = [
  {name: "M-101", values: m101, color: "#4472C4", stroke: "#4472C4"},
  {name: "M-102", values: m102, color: "#ED7D31", stroke: "#ED7D31"},
  {name: "M-103", values: m103, color: "#548235", stroke: "#548235"},
  {name: "M-104", values: m104, color: "#FFFF00", stroke: "#F2C200"}
]

wells.forEach(function(w) {
  var pts = mDates
    .map(function(d, i) { return {date: parseDate(d), v: w.values[i]} })
    .filter(function(d) { return d.v != null })
  svg.append("g")
    .selectAll("circle")
    .data(pts)
    .enter()
    .append("circle")
      .attr("cx", function(d) { return x(d.date) })
      .attr("cy", function(d) { return y(d.v) })
      .attr("r", 5.7)
      .style("fill", w.color)
      .style("stroke", w.stroke)
      .style("stroke-width", 0.8)
})


// ------------------------------------------------------------------------ //
// AXES
// ------------------------------------------------------------------------ //

// top frame line
svg.append("line")
  .attr("x1", 0).attr("x2", width)
  .attr("y1", 0).attr("y2", 0)
  .style("stroke", "#595959")
  .style("stroke-width", 1.3)

// left log axis
var leftAxis = svg.append("g")
  .call(d3.axisLeft(y)
    .tickValues(csTicks)
    .tickFormat(function(d) { return d >= 1 ? d3.format("d")(d) : String(d) })
    .tickSizeInner(-7)
    .tickSizeOuter(0)
    .tickPadding(20))
leftAxis.selectAll("text")
  .style("font-size", "22px")
  .style("font-weight", "bold")
  .style("fill", "#000")

var minorCs = []
csTicks.slice(0, -1).forEach(function(t) {
  for (var k = 2; k <= 9; k++) minorCs.push(t * k)
})
var leftMinor = svg.append("g")
  .call(d3.axisLeft(y).tickValues(minorCs).tickFormat("").tickSizeInner(-4).tickSizeOuter(0))
leftMinor.select(".domain").remove()

// bottom time axis with monthly ticks
var bottomAxis = svg.append("g")
  .attr("transform", "translate(0," + height + ")")
  .call(d3.axisBottom(x)
    .ticks(d3.timeMonth.every(1))
    .tickFormat("")
    .tickSizeInner(4)
    .tickSizeOuter(0))
bottomAxis.selectAll(".tick line").attr("y1", -3)

svg.append("g")
  .selectAll("text")
  .data(yearTickDates)
  .enter()
  .append("text")
    .attr("transform", function(d) {
      return "translate(" + (x(parseDate(d)) + 1) + "," + (height + 33) + ") rotate(-13)"
    })
    .attr("text-anchor", "end")
    .style("font-size", "17px")
    .style("font-weight", "bold")
    .text(function(d, i) { return yearTickLabels[i] })

// right rainfall axis
var rightAxis = svg.append("g")
  .attr("transform", "translate(" + width + ",0)")
  .call(d3.axisRight(yRain)
    .tickValues(rainTicks)
    .tickSizeInner(7)
    .tickSizeOuter(0)
    .tickPadding(13))
rightAxis.selectAll(".tick line").attr("x1", -7)
rightAxis.selectAll("text")
  .style("font-size", "22px")
  .style("font-weight", "bold")
  .style("fill", "#000")

var rightMinor = svg.append("g")
  .attr("transform", "translate(" + width + ",0)")
  .call(d3.axisRight(yRain).tickValues(rainMinorTicks).tickFormat("").tickSizeInner(-7).tickSizeOuter(0))
rightMinor.select(".domain").remove()

svgRoot.selectAll(".domain, .tick line").style("stroke", "#000")


// ------------------------------------------------------------------------ //
// AXIS TITLES
// ------------------------------------------------------------------------ //

var leftTitle = svgRoot.append("text")
  .attr("transform", "translate(38,281) rotate(-90)")
  .attr("text-anchor", "middle")
  .style("font-size", "24px")
  .style("font-weight", "bold")
  .style("letter-spacing", "1.5px")
leftTitle.append("tspan")
  .attr("dy", "-9")
  .style("font-size", "14px")
  .style("letter-spacing", "0px")
  .text("137")
leftTitle.append("tspan")
  .attr("dy", "9")
  .text("Cs(mBq/L)")

svgRoot.append("text")
  .attr("transform", "translate(1187,268) rotate(90)")
  .attr("text-anchor", "middle")
  .style("font-size", "20px")
  .style("font-weight", "bold")
  .style("letter-spacing", "1px")
  .text("降水量(mm/日)")


// ------------------------------------------------------------------------ //
// LEGEND
// ------------------------------------------------------------------------ //

var legendItems = [
  {label: "浪江町", type: "square", color: "#4472C4"},
  {label: "富岡町", type: "square", color: "#ED7D31"},
  {label: "港湾口", type: "ring", color: "#FF0000"},
  {label: "M-101", type: "dot", color: "#4472C4"},
  {label: "M-102", type: "dot", color: "#ED7D31"},
  {label: "M-103", type: "dot", color: "#548235"},
  {label: "M-104", type: "dot", color: "#FFFF00"}
]

var legend = svgRoot.append("g")
legend.append("rect")
  .attr("x", 128).attr("y", 26)
  .attr("width", 157).attr("height", 107)
  .style("fill", "#fff")
  .style("stroke", "#404040")
  .style("stroke-width", 1.2)

legendItems.forEach(function(it, i) {
  var lx = 142 + (i % 2) * 79,
      ly = 40 + Math.floor(i / 2) * 27
  if (it.type == "square") {
    legend.append("rect")
      .attr("x", lx - 3.5).attr("y", ly - 3.5)
      .attr("width", 7).attr("height", 7)
      .style("fill", it.color)
  } else if (it.type == "ring") {
    legend.append("circle")
      .attr("cx", lx).attr("cy", ly).attr("r", 3.8)
      .style("fill", "none").style("stroke", it.color).style("stroke-width", 1.2)
  } else {
    legend.append("circle")
      .attr("cx", lx).attr("cy", ly).attr("r", 4.2)
      .style("fill", it.color)
  }
  legend.append("text")
    .attr("x", lx + 8).attr("y", ly)
    .attr("dy", "0.36em")
    .style("font-size", "15px")
    .style("fill", "#595959")
    .text(it.label)
})


// ------------------------------------------------------------------------ //
// ANNOTATIONS
// ------------------------------------------------------------------------ //

svgRoot.append("defs")
  .append("marker")
    .attr("id", "arrow")
    .attr("viewBox", "0 0 10 10")
    .attr("refX", 9).attr("refY", 5)
    .attr("markerWidth", 4.5).attr("markerHeight", 4.5)
    .attr("orient", "auto")
  .append("path")
    .attr("d", "M0,0 L10,5 L0,10 z")
    .style("fill", "#000")

// box left edge, box width, text anchor, text x, arrow stem x, arrow tip offset from line
var notes = [
  {bx: 290, bw: 138, anchor: "end", tx: 415, stem: 398, tip: -2},
  {bx: 497, bw: 142, anchor: "middle", tx: 567, stem: 533, tip: 14},
  {bx: 808, bw: 123, anchor: "middle", tx: 871, stem: 842, tip: 12}
]

notes.forEach(function(n, i) {
  var g = svgRoot.append("g")
  g.append("rect")
    .attr("x", n.bx).attr("y", 26)
    .attr("width", n.bw).attr("height", 49)
    .style("fill", "#fff")
    .style("stroke", "#404040")
    .style("stroke-width", 1.2)
  g.append("text")
    .attr("x", n.tx).attr("y", 47)
    .attr("text-anchor", n.anchor)
    .style("font-size", "14px")
    .style("fill", "#404040")
    .text(eventLine1[i])
  g.append("text")
    .attr("x", n.tx).attr("y", 64)
    .attr("text-anchor", n.anchor)
    .style("font-size", "14px")
    .style("fill", "#404040")
    .text(eventLine2[i])
  var tipX = margin.left + x(parseDate(eventDates[i])) + n.tip
  g.append("path")
    .attr("d", "M" + n.stem + ",75 L" + n.stem + ",97 L" + tipX + ",97")
    .style("fill", "none")
    .style("stroke", "#000")
    .style("stroke-width", 2)
    .attr("marker-end", "url(#arrow)")
})

</script>
</body>
</html>
